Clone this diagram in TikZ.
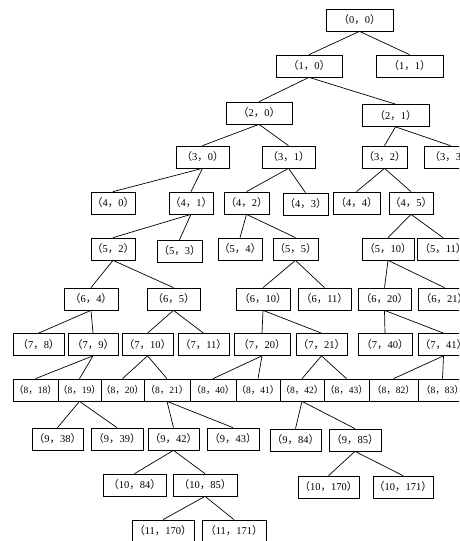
\documentclass[tikz,border=0pt]{standalone}
\usepackage{fontspec}
\setmainfont{Liberation Serif}
\newfontfamily\cjk{Noto Sans CJK SC}
\usepackage{tikz}
\newcommand{\pr}[2]{{\cjk（}#1{\cjk，}#2{\cjk）}}

\begin{document}
\begin{tikzpicture}[
  x=1pt, y=-1pt,
  every node/.style={font=\fontsize{10.5}{12}\selectfont},
  nd/.style={draw, line width=0.7pt, minimum height=22pt, inner sep=0pt},
  tight/.style={font=\fontsize{9.5}{11}\selectfont},
  link/.style={line width=0.7pt}
]
\useasboundingbox (0,0) rectangle (459,541);
\clip (0,0) rectangle (459,541);

% level 0--2
\node[nd, minimum width=67pt] (n0-0) at (359.5,20) {\pr{0}{0}};
\node[nd, minimum width=66pt] (n1-0) at (309,66) {\pr{1}{0}};
\node[nd, minimum width=67pt] (n1-1) at (409.5,66) {\pr{1}{1}};
\node[nd, minimum width=66pt] (n2-0) at (259,113) {\pr{2}{0}};
\node[nd, minimum width=67pt] (n2-1) at (395.5,115.5) {\pr{2}{1}};

% level 3
\node[nd, minimum width=53pt] (n3-0) at (202.5,157) {\pr{3}{0}};
\node[nd, minimum width=53pt] (n3-1) at (288.5,157) {\pr{3}{1}};
\node[nd, minimum width=45pt] (n3-2) at (384.5,157) {\pr{3}{2}};
\node[nd, minimum width=53pt] (n3-3) at (450.5,157) {\pr{3}{3}};

% level 4
\node[nd, minimum width=44pt] (n4-0) at (113,203) {\pr{4}{0}};
\node[nd, minimum width=44pt] (n4-1) at (191,203) {\pr{4}{1}};
\node[nd, minimum width=45pt] (n4-2) at (246.5,203) {\pr{4}{2}};
\node[nd, minimum width=45pt] (n4-3) at (305.5,204) {\pr{4}{3}};
\node[nd, minimum width=47pt] (n4-4) at (356.5,203) {\pr{4}{4}};
\node[nd, minimum width=44pt] (n4-5) at (411,203) {\pr{4}{5}};

% level 5
\node[nd, minimum width=44pt] (n5-2) at (113,249) {\pr{5}{2}};
\node[nd, minimum width=45pt] (n5-3) at (179.5,251) {\pr{5}{3}};
\node[nd, minimum width=44pt] (n5-4) at (240,249) {\pr{5}{4}};
\node[nd, minimum width=45pt] (n5-5) at (295.5,249) {\pr{5}{5}};
\node[nd, minimum width=52pt] (n5-10) at (388,249) {\pr{5}{10}};
\node[nd, minimum width=52pt] (n5-11) at (443,249) {\pr{5}{11}};

% level 6
\node[nd, minimum width=54pt] (n6-4) at (91,299) {\pr{6}{4}};
\node[nd, minimum width=53pt] (n6-5) at (173.5,299) {\pr{6}{5}};
\node[nd, minimum width=54pt] (n6-10) at (263,299) {\pr{6}{10}};
\node[nd, minimum width=53pt] (n6-11) at (324.5,299) {\pr{6}{11}};
\node[nd, minimum width=53pt] (n6-20) at (384.5,299) {\pr{6}{20}};
\node[nd, minimum width=53pt] (n6-21) at (444.5,299) {\pr{6}{21}};

% level 7
\node[nd, minimum width=51pt] (n7-8) at (38.5,344.5) {\pr{7}{8}};
\node[nd, minimum width=50pt] (n7-9) at (93,344.5) {\pr{7}{9}};
\node[nd, minimum width=51pt] (n7-10) at (147.5,344.5) {\pr{7}{10}};
\node[nd, minimum width=51pt] (n7-11) at (203.5,344.5) {\pr{7}{11}};
\node[nd, minimum width=56pt] (n7-20) at (262,344.5) {\pr{7}{20}};
\node[nd, minimum width=51pt] (n7-21) at (321.5,344.5) {\pr{7}{21}};
\node[nd, minimum width=54pt] (n7-40) at (385,344.5) {\pr{7}{40}};
\node[nd, minimum width=51pt] (n7-41) at (443.5,344.5) {\pr{7}{41}};

% level 8, boxes touch each other
\node[nd, tight, minimum width=45pt] (n8-18) at (35.5,390) {\pr{8}{18}};
\node[nd, tight, minimum width=43pt] (n8-19) at (79.5,390) {\pr{8}{19}};
\node[nd, tight, minimum width=43pt] (n8-20) at (122.5,390) {\pr{8}{20}};
\node[nd, tight, minimum width=46pt] (n8-21) at (167,390) {\pr{8}{21}};
\node[nd, tight, minimum width=46pt] (n8-40) at (213,390) {\pr{8}{40}};
\node[nd, tight, minimum width=44pt] (n8-41) at (258,390) {\pr{8}{41}};
\node[nd, tight, minimum width=44pt] (n8-42) at (302,390) {\pr{8}{42}};
\node[nd, tight, minimum width=45pt] (n8-43) at (346.5,390) {\pr{8}{43}};
\node[nd, tight, minimum width=49pt] (n8-82) at (393.5,390) {\pr{8}{82}};
\node[nd, tight, minimum width=49pt] (n8-83) at (442.5,390) {\pr{8}{83}};

% level 9
\node[nd, minimum width=51pt] (n9-38) at (57.5,439) {\pr{9}{38}};
\node[nd, minimum width=52pt] (n9-39) at (117,439) {\pr{9}{39}};
\node[nd, minimum width=51pt] (n9-42) at (173.5,439) {\pr{9}{42}};
\node[nd, minimum width=52pt] (n9-43) at (233,439) {\pr{9}{43}};
\node[nd, minimum width=51pt] (n9-84) at (295.5,440) {\pr{9}{84}};
\node[nd, minimum width=52pt] (n9-85) at (355,440) {\pr{9}{85}};

% level 10--11
\node[nd, minimum width=63pt] (n10-84) at (134.5,485) {\pr{10}{84}};
\node[nd, minimum width=64pt] (n10-85) at (205,485) {\pr{10}{85}};
\node[nd, minimum width=61pt] (n10-170) at (328.5,487) {\pr{10}{170}};
\node[nd, minimum width=60pt] (n10-171) at (403,487) {\pr{10}{171}};
\node[nd, minimum width=62pt] (n11-170) at (163,531) {\pr{11}{170}};
\node[nd, minimum width=64pt] (n11-171) at (234,531) {\pr{11}{171}};

% links
\draw[link] (n0-0.south) -- (n1-0.north);
\draw[link] (n0-0.south) -- (n1-1.north);
\draw[link] (n1-0.south) -- (n2-0.north);
\draw[link] (n1-0.south) -- (n2-1.north);
\draw[link] (n2-0.south) -- (n3-0.north);
\draw[link] (n2-0.south) -- (n3-1.north);
\draw[link] (n2-1.south) -- (n3-2.north);
\draw[link] (n2-1.south) -- (n3-3.north);
\draw[link] (n3-0.south) -- (n4-0.north);
\draw[link] (n3-0.south) -- (n4-1.north);
\draw[link] (n3-1.south) -- (n4-2.north);
\draw[link] (n3-1.south) -- (n4-3.north);
\draw[link] (n3-2.south) -- (n4-4.north);
\draw[link] (n3-2.south) -- (n4-5.north);
\draw[link] (n4-1.south) -- (n5-2.north);
\draw[link] (n4-1.south) -- (n5-3.north);
\draw[link] (n4-2.south) -- (n5-4.north);
\draw[link] (n4-2.south) -- (n5-5.north);
\draw[link] (n4-5.south) -- (n5-10.north);
\draw[link] (n4-5.south) -- (n5-11.north);
\draw[link] (n5-2.south) -- (n6-4.north);
\draw[link] (n5-2.south) -- (n6-5.north);
\draw[link] (n5-5.south) -- (n6-10.north);
\draw[link] (n5-5.south) -- (n6-11.north);
\draw[link] (n5-10.south) -- (n6-20.north);
\draw[link] (n5-10.south) -- (n6-21.north);
\draw[link] (n6-4.south) -- (n7-8.north);
\draw[link] (n6-4.south) -- (n7-9.north);
\draw[link] (n6-5.south) -- (n7-10.north);
\draw[link] (n6-5.south) -- (n7-11.north);
\draw[link] (n6-10.south) -- (n7-20.north);
\draw[link] (n6-10.south) -- (n7-21.north);
\draw[link] (n6-20.south) -- (n7-40.north);
\draw[link] (n6-20.south) -- (n7-41.north);
\draw[link] (n7-9.south) -- (n8-18.north);
\draw[link] (n7-9.south) -- (n8-19.north);
\draw[link] (n7-10.south) -- (n8-20.north);
\draw[link] (n7-10.south) -- (n8-21.north);
\draw[link] (n7-20.south) -- (n8-40.north);
\draw[link] (n7-20.south) -- (n8-41.north);
\draw[link] (n7-21.south) -- (n8-42.north);
\draw[link] (n7-21.south) -- (n8-43.north);
\draw[link] (n7-41.south) -- (n8-82.north);
\draw[link] (n7-41.south) -- (n8-83.north);
\draw[link] (n8-19.south) -- (n9-38.north);
\draw[link] (n8-19.south) -- (n9-39.north);
\draw[link] (n8-21.south) -- (n9-42.north);
\draw[link] (n8-21.south) -- (n9-43.north);
\draw[link] (n8-42.south) -- (n9-84.north);
\draw[link] (n8-42.south) -- (n9-85.north);
\draw[link] (n9-42.south) -- (n10-84.north);
\draw[link] (n9-42.south) -- (n10-85.north);
\draw[link] (n9-85.south) -- (n10-170.north);
\draw[link] (n9-85.south) -- (n10-171.north);
\draw[link] (n10-85.south) -- (n11-170.north);
\draw[link] (n10-85.south) -- (n11-171.north);
\end{tikzpicture}
\end{document}
